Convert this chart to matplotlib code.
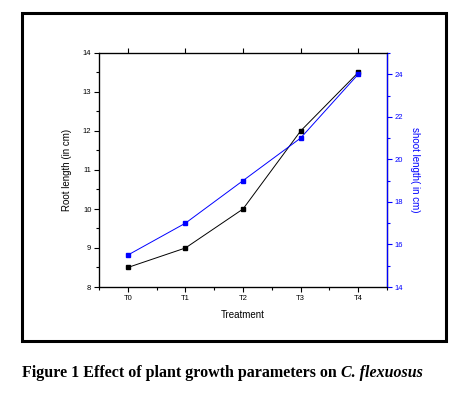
import matplotlib
matplotlib.use("Agg")
import matplotlib.pyplot as plt
from matplotlib.patches import Rectangle
from matplotlib.ticker import MultipleLocator

# data
treatments = ["T0", "T1", "T2", "T3", "T4"]
root_length = [8.5, 9.0, 10.0, 12.0, 13.5]   # cm, left axis
shoot_length = [15.5, 17.0, 19.0, 21.0, 24.0]  # cm, right axis

plt.rcParams['font.family'] = ['Liberation Sans', 'DejaVu Sans']

fig = plt.figure(figsize=(4.62, 3.96), dpi=100)

# black frame around the graph
fig.patches.append(Rectangle((22 / 462, 1 - 341 / 396), 424 / 462, 328 / 396,
                             transform=fig.transFigure, fill=False,
                             edgecolor="black", linewidth=2.2))

ax = fig.add_axes([99 / 462, 1 - 287 / 396, 288 / 462, 234 / 396])
x = range(len(treatments))

ax.plot(x, root_length, color="black", marker="s", markersize=3.2,
        linewidth=0.7)
ax.set_xlim(-0.5, 4.5)
ax.set_ylim(8, 14)
ax.set_xticks(list(x))
ax.set_xticklabels(treatments)
ax.xaxis.set_minor_locator(MultipleLocator(0.5))
ax.yaxis.set_major_locator(MultipleLocator(1))
ax.yaxis.set_minor_locator(MultipleLocator(0.5))
ax.tick_params(which="both", direction="out", labelsize=5.5, width=0.8,
               top=True, pad=2)
ax.tick_params(which="major", length=3.5)
ax.tick_params(which="minor", length=2)
ax.tick_params(axis="x", which="minor", top=False)
ax.set_xlabel("Treatment", fontsize=7, labelpad=6)
ax.set_ylabel("Root length (in cm)", fontsize=7, labelpad=8)
for s in ax.spines.values():
    s.set_linewidth(0.9)

ax2 = ax.twinx()
ax2.plot(x, shoot_length, color="#0000ff", marker="s", markersize=3.2,
         linewidth=0.7)
ax2.set_ylim(14, 25)
ax2.yaxis.set_major_locator(MultipleLocator(2))
ax2.yaxis.set_minor_locator(MultipleLocator(1))
ax2.tick_params(which="both", direction="out", colors="#0000ff",
                labelsize=5.5, width=0.8, pad=2)
ax2.tick_params(which="major", length=3.5)
ax2.tick_params(which="minor", length=2)
ax2.spines["right"].set_color("#0000ff")
ax2.spines["right"].set_linewidth(0.9)
ax2.set_ylabel("shoot length( in cm)", fontsize=7, color="#0000ff",
               rotation=270, labelpad=12)

# caption: bold upright part followed by bold italic species name
cap = fig.text(22 / 462, 1 - 373 / 396,
               "Figure 1 Effect of plant growth parameters on ",
               fontsize=11.5, fontweight="bold", family="Liberation Serif",
               va="center", ha="left")
fig.canvas.draw()
bb = cap.get_window_extent()
fig.text(bb.x1 / fig.bbox.width, 1 - 373 / 396, "C. flexuosus",
         fontsize=11.5, fontweight="bold", fontstyle="italic",
         family="Liberation Serif", va="center", ha="left")

fig.savefig("out.png", dpi=100, facecolor="white")
